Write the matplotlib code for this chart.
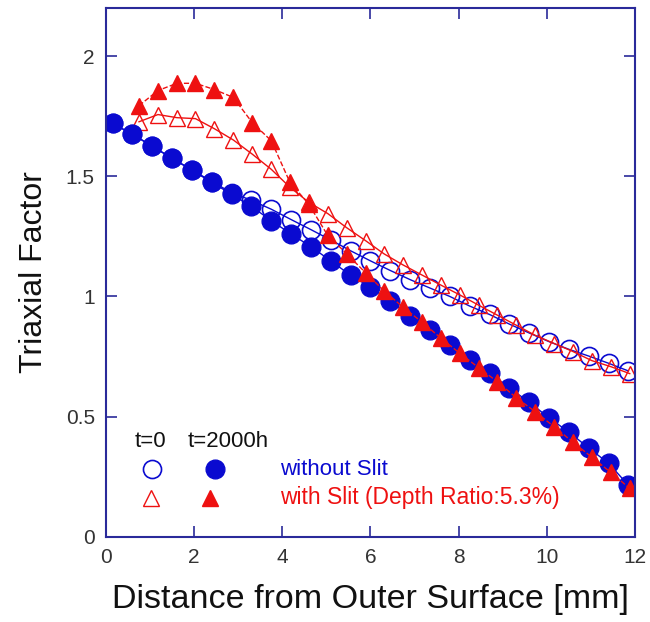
import matplotlib.pyplot as plt

plt.rcParams['font.family'] = ['Liberation Sans', 'DejaVu Sans']

# distance [mm]
x_blue = [0.15, 0.6, 1.05, 1.5, 1.95, 2.4, 2.85, 3.3, 3.75, 4.2, 4.65, 5.1, 5.55, 6.0,
          6.45, 6.9, 7.35, 7.8, 8.25, 8.7, 9.15, 9.6, 10.05, 10.5, 10.95, 11.4, 11.85]
x_red = [0.75, 1.18, 1.61, 2.03, 2.46, 2.89, 3.32, 3.75, 4.17, 4.6, 5.03, 5.46, 5.89, 6.31,
         6.74, 7.17, 7.6, 8.03, 8.45, 8.88, 9.31, 9.74, 10.17, 10.59, 11.02, 11.45, 11.88]

# triaxial factor
noslit_t0 = [1.72, 1.675, 1.625, 1.575, 1.527, 1.478, 1.432, 1.40, 1.363, 1.32, 1.278, 1.235,
             1.19, 1.148, 1.108, 1.07, 1.035, 1.0, 0.96, 0.925, 0.885, 0.848, 0.812, 0.78,
             0.752, 0.722, 0.69]
noslit_t2000 = [1.72, 1.675, 1.625, 1.575, 1.525, 1.475, 1.425, 1.375, 1.315, 1.26, 1.207,
                1.148, 1.088, 1.039, 0.98, 0.918, 0.859, 0.80, 0.735, 0.683, 0.618, 0.561,
                0.494, 0.436, 0.369, 0.306, 0.214]
slit_t0 = [1.727, 1.757, 1.744, 1.74, 1.698, 1.651, 1.592, 1.529, 1.455, 1.392, 1.345, 1.286,
           1.232, 1.177, 1.131, 1.089, 1.047, 1.006, 0.964, 0.922, 0.88, 0.838, 0.804, 0.771,
           0.733, 0.708, 0.679]
slit_t2000 = [1.794, 1.857, 1.887, 1.887, 1.861, 1.828, 1.723, 1.648, 1.476, 1.384, 1.254,
              1.178, 1.098, 1.023, 0.955, 0.893, 0.826, 0.763, 0.704, 0.645, 0.578, 0.52,
              0.457, 0.394, 0.331, 0.268, 0.201]

blue = '#0a0ad0'
red = '#ee1111'
frame = '#2a2a9a'

fig = plt.figure(figsize=(6.5, 6.22), dpi=100)
ax = fig.add_axes([0.163, 0.137, 0.814, 0.85])

ax.plot(x_blue, noslit_t0, '-', color=blue, lw=1, marker='o', ms=13,
        mfc='none', mec=blue, mew=1.2)
ax.plot(x_red, slit_t0, '-', color=red, lw=1, marker='^', ms=11,
        mfc='none', mec=red, mew=1.0)
ax.plot(x_blue, noslit_t2000, '-', color=blue, lw=1, marker='o', ms=13.5,
        mfc=blue, mec=blue)
ax.plot(x_red, slit_t2000, '--', color=red, lw=1, marker='^', ms=11.5,
        mfc=red, mec=red)

# legend drawn by hand
ax.text(1.02, 0.395, 't=0', fontsize=16, ha='center', va='center', color='#111111')
ax.text(1.86, 0.395, 't=2000h', fontsize=16, ha='left', va='center', color='#111111')
ax.plot([1.04], [0.281], 'o', ms=13, mfc='none', mec=blue, mew=1.2)
ax.plot([2.47], [0.281], 'o', ms=13.5, color=blue)
ax.plot([1.02], [0.163], '^', ms=11, mfc='none', mec=red, mew=1.0)
ax.plot([2.36], [0.163], '^', ms=11.5, color=red)
ax.text(3.95, 0.281, 'without Slit', fontsize=16, va='center', color=blue)
ax.text(3.95, 0.163, 'with Slit (Depth Ratio:5.3%)', fontsize=16.5, va='center', color=red)

ax.set_xlim(0, 12)
ax.set_ylim(0, 2.2)
ax.set_xticks([0, 2, 4, 6, 8, 10, 12])
ax.set_yticks([0, 0.5, 1, 1.5, 2])
ax.set_yticklabels(['0', '0.5', '1', '1.5', '2'])
ax.tick_params(direction='in', length=8, width=1.2, color=frame, top=True, right=True,
               labelsize=15, labelcolor='#333333', pad=8)
for s in ax.spines.values():
    s.set_color(frame)
    s.set_linewidth(1.5)

ax.set_xlabel('Distance from Outer Surface [mm]', fontsize=24.5, color='#111111', labelpad=12)
ax.set_ylabel('Triaxial Factor', fontsize=23, color='#111111', labelpad=12)

fig.savefig('out.png', dpi=100)
